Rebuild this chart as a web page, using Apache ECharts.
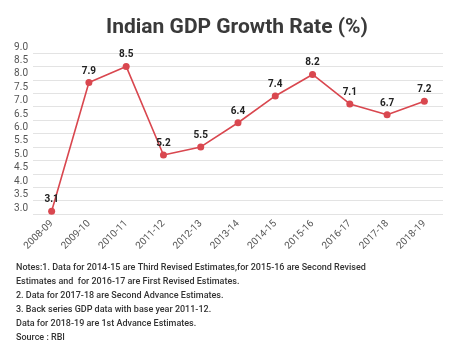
<!DOCTYPE html>
<html><head><meta charset="utf-8">
<script src="https://cdn.jsdelivr.net/npm/echarts@6/dist/echarts.min.js"></script>
<style>html,body{margin:0;padding:0;background:#fff}#c{width:474px;height:355px}</style>
</head><body><div id="c"></div>
<script>
var categories = ['2008-09','2009-10','2010-11','2011-12','2012-13','2013-14','2014-15','2015-16','2016-17','2017-18','2018-19'];
var growth = [3.1, 7.9, 8.5, 5.2, 5.5, 6.4, 7.4, 8.2, 7.1, 6.7, 7.2];
var yTicks = { min: 3.0, max: 9.0, interval: 0.5 };
var notes = [
  'Notes:1. Data for 2014-15 are Third Revised Estimates,for 2015-16 are Second Revised',
  'Estimates and  for 2016-17 are First Revised Estimates.',
  '2. Data for 2017-18 are Second Advance Estimates.',
  '3. Back series GDP data with base year 2011-12.',
  'Data for 2018-19 are 1st Advance Estimates.',
  'Source : RBI'
];
var chart = echarts.init(document.getElementById('c'), null, {renderer:'canvas'});
chart.setOption({
  backgroundColor: '#fff',
  animation: false,
  title: {
    text: 'Indian GDP Growth Rate (%)', left: 'center', top: 12,
    textStyle: { fontFamily: 'Roboto', fontWeight: 'bold', fontSize: 21, color: '#3a3a3a' }
  },
  grid: { left: 33, right: 31, top: 53, bottom: 141 },
  xAxis: {
    type: 'category', data: categories, boundaryGap: true,
    axisLine: { show: false }, axisTick: { show: false },
    axisLabel: { rotate: 45, fontFamily: 'Roboto', fontSize: 10, color: '#555', margin: 8, interval: 0 }
  },
  yAxis: {
    type: 'value', min: yTicks.min, max: yTicks.max, interval: yTicks.interval,
    axisLine: { show: false }, axisTick: { show: false },
    axisLabel: { fontFamily: 'Roboto', fontSize: 10, color: '#555', margin: 5, verticalAlign: 'bottom', lineHeight: 12,
      formatter: function(v){ return v.toFixed(1); } },
    splitLine: { lineStyle: { color: '#e3e3e3', width: 1 } }
  },
  series: [{
    type: 'line', data: growth,
    symbol: 'circle', symbolSize: 7,
    lineStyle: { color: '#d9474f', width: 1.6 },
    itemStyle: { color: '#d9474f' },
    label: { show: true, position: 'top', distance: 3, fontFamily: 'Roboto', fontWeight: 'bold', fontSize: 10, color: '#222',
      formatter: function(p){ return p.value.toFixed(1); } }
  }],
  graphic: notes.map(function(t, i){
    return { type: 'text', left: 16, top: 263 + i * 14,
      style: { text: t, font: '500 9px Roboto', fill: '#333' } };
  })
});
</script></body></html>
